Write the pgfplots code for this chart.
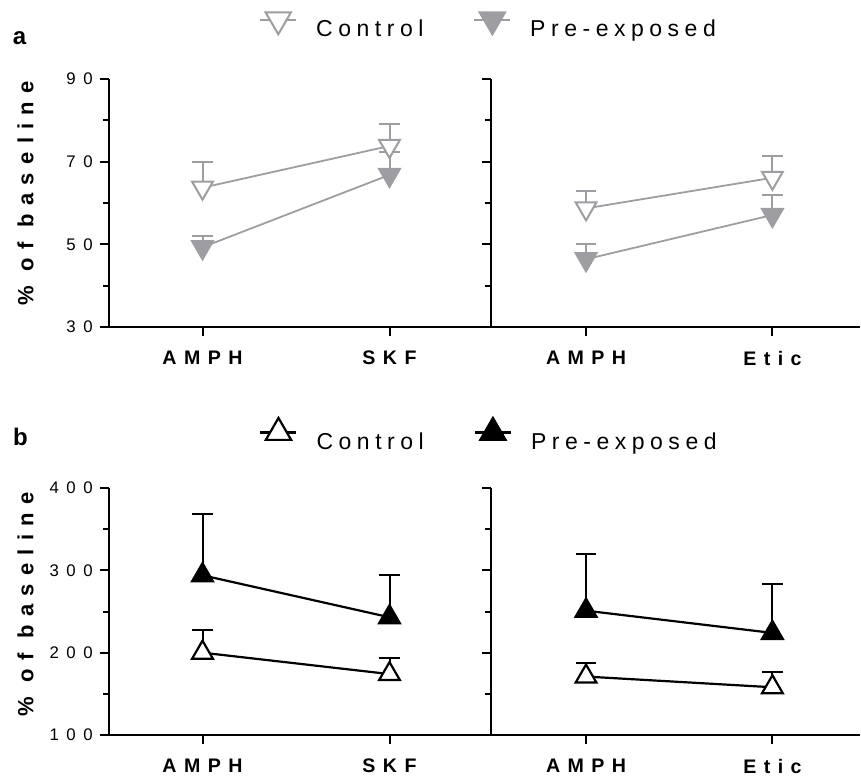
\documentclass[border=0pt]{standalone}
\usepackage{fontspec}
\setmainfont{Liberation Sans}
\newfontfamily\legfont[LetterSpace=24]{Liberation Sans}
\newfontfamily\tickfont[LetterSpace=45]{Liberation Sans}
\newfontfamily\xlabfont[LetterSpace=38]{Liberation Sans}
\newfontfamily\ylabfont[LetterSpace=38]{Liberation Sans}
\usepackage{pgfplots}
\pgfplotsset{compat=1.18}
\definecolor{pgray}{RGB}{158,158,162}

\pgfplotsset{
  panel/.style={
    scale only axis, width=187pt,
    xmin=-0.5, xmax=1.5,
    axis x line*=bottom, axis y line*=left,
    axis line style={line width=1pt, black},
    tick align=outside, major tick length=4.6pt, minor tick length=2.8pt,
    tick style={black, line width=1pt},
    xtick={0,1},
    xticklabel style={font=\xlabfont\bfseries\fontsize{9.8}{11}\selectfont, yshift=-4pt},
    yticklabel style={font=\tickfont\fontsize{8.4}{10}\selectfont},
    ylabel style={font=\ylabfont\bfseries\fontsize{11}{13}\selectfont},
    legend image code/.code={
      \draw[#1, mark=none] (0pt,5.2pt) -- (18pt,5.2pt);
      \draw[#1, mark size=7.3pt] plot coordinates {(9pt,5.2pt)};
    },
    legend style={font=\legfont\fontsize{11.5}{13}\selectfont, draw=none, fill=none,
      legend columns=2, anchor=west, inner sep=0pt,
      /tikz/every odd column/.style={column sep=7.5pt},
      /tikz/every even column/.style={column sep=23pt}},
    error bars/error bar style={line width=1pt},
    error bars/error mark options={rotate=90, mark size=5.2pt, line width=1pt},
  },
  pa/.style={panel, height=124pt, ymin=30, ymax=90, ytick={30,50,70,90}, minor ytick={40,60,80}},
  pb/.style={panel, height=123.5pt, ymin=100, ymax=400, ytick={100,200,300,400}, minor ytick={150,250,350}},
  acon/.style={pgray, line width=0.9pt, mark=triangle*, mark size=6pt,
    mark options={rotate=180, fill=white, line width=1pt}},
  apre/.style={pgray, line width=0.9pt, mark=triangle*, mark size=6pt,
    mark options={rotate=180, fill=pgray, line width=1pt}},
  bcon/.style={black, line width=1.1pt, mark=triangle*, mark size=6pt,
    mark options={fill=white, line width=1.1pt}},
  bpre/.style={black, line width=1.1pt, mark=triangle*, mark size=6pt,
    mark options={fill=black, line width=1.1pt}},
}

\begin{document}
\begin{tikzpicture}
\useasboundingbox (0,0) rectangle (430.5pt,-391pt);

% panel a, left
\begin{axis}[pa, at={(54.5pt,-163.5pt)}, anchor=south west,
  xticklabels={AMPH,SKF}, yticklabels={30,50,70,90},
  ylabel={\% of baseline}, ylabel style={at={(axis description cs:-0.223,0.54)}, anchor=center},
  legend style={at={(axis description cs:0.401,1.205)}}]
\addplot[acon] plot[error bars/.cd, y dir=plus, y explicit]
  coordinates {(0,63.7) +- (0,6.1) (1,73.8) +- (0,5.3)};
\addplot[apre] plot[error bars/.cd, y dir=plus, y explicit]
  coordinates {(0,49.3) +- (0,2.7) (1,66.8) +- (0,5.5)};
\legend{Control, Pre-exposed}
\end{axis}

% panel a, right
\begin{axis}[pa, at={(245.5pt,-163.5pt)}, anchor=south west, width=184.5pt,
  xmin=-0.51, xmax=1.47, xticklabels={AMPH,Etic}, yticklabels={}]
\addplot[acon] plot[error bars/.cd, y dir=plus, y explicit]
  coordinates {(0,58.7) +- (0,4.2) (1,66.1) +- (0,5.3)};
\addplot[apre] plot[error bars/.cd, y dir=plus, y explicit]
  coordinates {(0,46.4) +- (0,3.8) (1,57.1) +- (0,4.8)};
\end{axis}

% panel b, left
\begin{axis}[pb, at={(54.5pt,-367.5pt)}, anchor=south west,
  xticklabels={AMPH,SKF}, yticklabels={100,200,300,400},
  ylabel={\% of baseline}, ylabel style={at={(axis description cs:-0.223,0.53)}, anchor=center},
  legend style={at={(axis description cs:0.401,1.205)}}]
\addplot[bcon] plot[error bars/.cd, y dir=plus, y explicit]
  coordinates {(0,200) +- (0,27.5) (1,174) +- (0,19)};
\addplot[bpre] plot[error bars/.cd, y dir=plus, y explicit]
  coordinates {(0,294) +- (0,75) (1,243) +- (0,51)};
\legend{Control, Pre-exposed}
\end{axis}

% panel b, right
\begin{axis}[pb, at={(245.5pt,-367.5pt)}, anchor=south west, width=184.5pt,
  xmin=-0.51, xmax=1.47, xticklabels={AMPH,Etic}, yticklabels={}]
\addplot[bcon] plot[error bars/.cd, y dir=plus, y explicit]
  coordinates {(0,171) +- (0,16) (1,158) +- (0,18)};
\addplot[bpre] plot[error bars/.cd, y dir=plus, y explicit]
  coordinates {(0,251) +- (0,69) (1,224) +- (0,60)};
\end{axis}

\node[font=\bfseries\fontsize{12}{14}\selectfont] at (9.8pt,-19pt) {a};
\node[font=\bfseries\fontsize{12}{14}\selectfont] at (10.2pt,-218.5pt) {b};
\end{tikzpicture}
\end{document}
